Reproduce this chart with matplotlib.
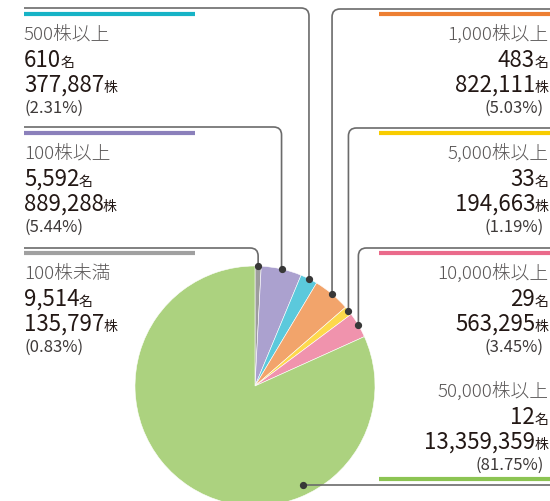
import matplotlib
matplotlib.use('Agg')
import matplotlib.pyplot as plt
from matplotlib.path import Path
from matplotlib.patches import PathPatch
import numpy as np

plt.rcParams['font.family'] = ['Noto Sans CJK JP', 'DejaVu Sans']

# ---------------- data ----------------
categories = ['100株未満', '100株以上', '500株以上', '1,000株以上',
              '5,000株以上', '10,000株以上', '50,000株以上']
holders = ['9,514', '5,592', '610', '483', '33', '29', '12']
shares = ['135,797', '889,288', '377,887', '822,111', '194,663', '563,295', '13,359,359']
percents = [0.83, 5.44, 2.31, 5.03, 1.19, 3.45, 81.75]

slice_colors = ['#9d9d9d', '#aba1cf', '#5bc9dc', '#f2a46b', '#fdd94c', '#f093ad', '#acd27f']
bar_colors = ['#a0a0a0', '#8b80bb', '#17b3c6', '#ed7f33', '#f8cc00', '#ea6a8b', '#8cc453']

# ---------------- layout (pixels, y measured downward) ----------------
W, H = 550, 501
side = ['L', 'L', 'L', 'R', 'R', 'R', 'R']
bar_y = [253, 133, 14, 14, 133, 253, 479]
text_top = [253, 133, 14, 14, 133, 253, 371]
line_y = [248, 127, 8, 9, 128, 248, 485]
LX, RX = 24, 548
center = (255, 386)
R = 120
corner = 8


def Y(y):
    return H - y


fig = plt.figure(figsize=(W / 100, H / 100), dpi=100)
ax = fig.add_axes([0, 0, 1, 1])

wedges, _ = ax.pie(percents, colors=slice_colors, startangle=90, counterclock=False,
                   center=(center[0], Y(center[1])), radius=R,
                   wedgeprops=dict(edgecolor='white', linewidth=0.4))
ax.set_xlim(0, W)
ax.set_ylim(0, H)
ax.set_aspect('equal')
ax.axis('off')

cx, cy = center[0], Y(center[1])

# anchor points
anchors = []
for i, w in enumerate(wedges):
    if i == len(wedges) - 1:
        ang = np.deg2rad(-64)
        rr = 0.92 * R
    else:
        ang = np.deg2rad((w.theta1 + w.theta2) / 2)
        rr = R
    anchors.append((cx + rr * np.cos(ang), cy + rr * np.sin(ang)))

line_color = '#6b6b6b'
for i, (xd, yd) in enumerate(anchors):
    yl = Y(line_y[i])
    if i == len(anchors) - 1:
        verts = [(xd, yd), (W, yd)]
        codes = [Path.MOVETO, Path.LINETO]
    elif side[i] == 'L':
        verts = [(xd, yd), (xd, yl - corner), (xd, yl), (xd - corner, yl), (LX, yl)]
        codes = [Path.MOVETO, Path.LINETO, Path.CURVE3, Path.CURVE3, Path.LINETO]
    else:
        verts = [(xd, yd), (xd, yl - corner), (xd, yl), (xd + corner, yl), (W, yl)]
        codes = [Path.MOVETO, Path.LINETO, Path.CURVE3, Path.CURVE3, Path.LINETO]
    ax.add_patch(PathPatch(Path(verts, codes), fill=False, edgecolor=line_color,
                           linewidth=1.2, zorder=5))
    ax.plot([xd], [yd], 'o', color='#383838', markersize=4.2, zorder=6)

# colour bars
for i in range(len(categories)):
    if side[i] == 'L':
        x0, x1 = LX, 195
    else:
        x0, x1 = 379, W
    ax.plot([x0, x1], [Y(bar_y[i])] * 2, color=bar_colors[i], linewidth=3.0,
            solid_capstyle='butt', zorder=4)

renderer = fig.canvas.get_renderer()

title_c, num_c, pct_c = '#5a5757', '#231815', '#3e3a39'
for i in range(len(categories)):
    t0 = text_top[i]
    yb_title = Y(t0 + 25.5)
    yb_num = Y(t0 + 53)
    yb_sh = Y(t0 + 77.5)
    yb_pct = Y(t0 + 99)
    pct_txt = f'({percents[i]:.2f}%)'
    if side[i] == 'L':
        ax.text(LX, yb_title, categories[i], fontsize=13.5, color=title_c,
                ha='left', va='baseline', fontweight='light')
        for val, unit, yb in [(holders[i], '名', yb_num), (shares[i], '株', yb_sh)]:
            t = ax.text(LX, yb, val, fontsize=16, color=num_c, ha='left', va='baseline')
            wpx = t.get_window_extent(renderer).width
            ax.text(LX + wpx - 1, yb, unit, fontsize=10, color=num_c,
                    ha='left', va='baseline')
        ax.text(LX, yb_pct, pct_txt, fontsize=12, color=pct_c, ha='left', va='baseline')
    else:
        ax.text(RX, yb_title, categories[i], fontsize=13.5, color=title_c,
                ha='right', va='baseline', fontweight='light')
        for val, unit, yb in [(holders[i], '名', yb_num), (shares[i], '株', yb_sh)]:
            u = ax.text(RX, yb, unit, fontsize=10, color=num_c, ha='right', va='baseline')
            wpx = u.get_window_extent(renderer).width
            ax.text(RX - wpx + 1, yb, val, fontsize=16, color=num_c,
                    ha='right', va='baseline')
        ax.text(RX - 4, yb_pct, pct_txt, fontsize=12, color=pct_c, ha='right', va='baseline')

fig.savefig('out.png', dpi=100)
